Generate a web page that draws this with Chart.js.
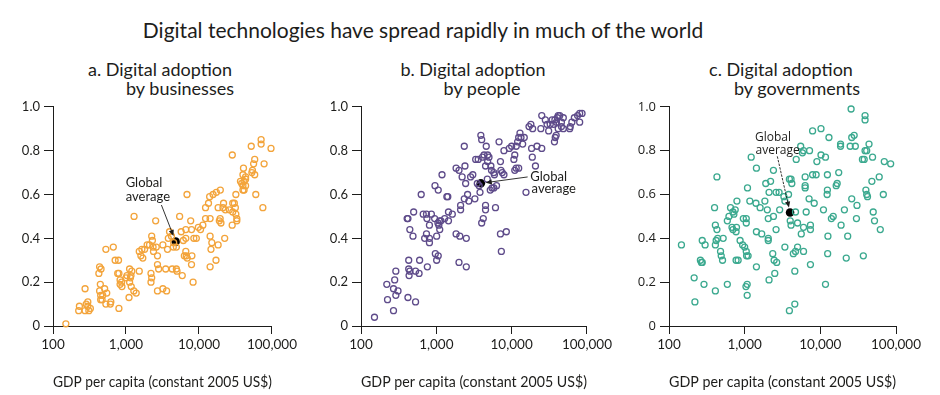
<!DOCTYPE html>
<html>
<head>
<meta charset="utf-8">
<script src="https://cdn.jsdelivr.net/npm/chart.js@4.4.1/dist/chart.umd.min.js"></script>
<style>
body{margin:0;background:#fff;width:940px;height:395px;position:relative;overflow:hidden;font-family:Lato,"Open Sans",sans-serif;color:#1d1d1b}
.t{position:absolute;white-space:nowrap;transform:translateX(-50%);line-height:1}
canvas{position:absolute}
</style>
</head>
<body>
<div class="t" style="left:423px;top:19px;font-size:21px">Digital technologies have spread rapidly in much of the world</div>
<div class="t" style="left:160px;top:60px;font-size:18px">a. Digital adoption</div>
<div class="t" style="left:180px;top:79px;font-size:18px">by businesses</div>
<div class="t" style="left:473px;top:60px;font-size:18px">b. Digital adoption</div>
<div class="t" style="left:482px;top:79px;font-size:18px">by people</div>
<div class="t" style="left:781px;top:60px;font-size:18px">c. Digital adoption</div>
<div class="t" style="left:797px;top:79px;font-size:18px">by governments</div>

<canvas id="cA" width="300" height="300" style="left:0;top:95px"></canvas>
<canvas id="cB" width="310" height="300" style="left:305px;top:95px"></canvas>
<canvas id="cC" width="325" height="300" style="left:615px;top:95px"></canvas>

<script>
// [GDP per capita, adoption index]
const businesses=[
[150,0.01],[225,0.07],[230,0.09],[275,0.07],[300,0.09],[310,0.07],[325,0.08],[285,0.10],[300,0.11],
[275,0.17],[445,0.19],[435,0.16],[450,0.14],[450,0.12],[470,0.12],[480,0.14],[510,0.17],[545,0.15],[530,0.10],[610,0.10],[620,0.11],
[425,0.24],[435,0.27],[455,0.26],[530,0.35],[670,0.36],[710,0.30],[790,0.30],[770,0.24],[800,0.24],[830,0.21],[830,0.19],[880,0.18],[800,0.08],
[870,0.20],[1000,0.22],[1030,0.23],[1120,0.26],[1150,0.22],[1120,0.20],[1180,0.18],[1100,0.13],[1280,0.16],[1380,0.15],[1170,0.23],[1200,0.25],[1520,0.25],
[1290,0.50],[1520,0.34],[1600,0.32],[1650,0.35],[1800,0.35],[1700,0.31],[1950,0.37],[2100,0.37],[2250,0.41],[2300,0.39],[2350,0.36],[2380,0.34],[2550,0.48],[2600,0.36],[2700,0.32],[2700,0.28],[2800,0.26],
[2200,0.24],[2250,0.22],[2200,0.20],[2700,0.16],[3200,0.17],[3600,0.16],
[3200,0.37],[3500,0.26],[3700,0.35],[3800,0.40],[3950,0.43],[4200,0.41],[4500,0.38],[4300,0.26],[4900,0.26],[5000,0.25],[4450,0.36],[4900,0.36],
[5430,0.50],[6850,0.60],[5700,0.43],[6100,0.39],[6600,0.44],[6600,0.40],[6300,0.32],[6600,0.34],[6700,0.32],[6900,0.31],[8000,0.32],[7900,0.28],
[8300,0.20],[5900,0.23],[7700,0.48],[7900,0.44],[8500,0.40],[9200,0.40],[9800,0.45],[10500,0.44],[11300,0.46],[12300,0.49],[14200,0.49],
[14200,0.41],[15000,0.38],[14600,0.35],[14200,0.27],[17100,0.30],[18300,0.37],[22500,0.40],
[12300,0.54],[13500,0.56],[14000,0.59],[15600,0.60],[17300,0.61],[19600,0.62],[18300,0.54],[21300,0.54],[21700,0.56],[23000,0.53],[26000,0.53],[29000,0.52],
[19000,0.48],[19500,0.49],[20000,0.47],[29000,0.56],[30500,0.56],[31500,0.54],[32000,0.51],[33000,0.49],[33000,0.48],[28500,0.46],
[28600,0.78],[32000,0.60],[37000,0.66],[38500,0.65],[40000,0.64],[40000,0.62],[41500,0.66],[43500,0.67],[41500,0.62],[43500,0.64],[40000,0.69],[40700,0.72],[43500,0.68],
[52000,0.82],[53000,0.70],[54000,0.71],[58000,0.76],[56000,0.74],[58000,0.69],[60000,0.60],[71000,0.85],[71000,0.83],[78000,0.74],[75000,0.54],[97000,0.81]
];

const people=[
[151,0.04],[220,0.19],[225,0.12],[270,0.07],[270,0.17],[280,0.21],[290,0.25],[290,0.14],[310,0.16],[420,0.13],[530,0.11],
[430,0.30],[430,0.26],[445,0.25],[435,0.23],[530,0.25],[590,0.24],[600,0.30],[760,0.27],
[410,0.49],[420,0.49],[500,0.52],[445,0.44],[490,0.41],[630,0.60],[670,0.51],[740,0.51],[750,0.49],[860,0.51],
[700,0.40],[740,0.42],[810,0.46],[810,0.38],[810,0.40],[950,0.49],[1050,0.47],[1080,0.46],[1100,0.48],[1150,0.48],
[1010,0.41],[1110,0.44],[1190,0.69],[960,0.64],[1060,0.62],[970,0.33],[1060,0.32],[1010,0.30],
[1290,0.49],[1380,0.59],[1420,0.59],[1450,0.48],[1450,0.52],[1630,0.51],[1830,0.42],[2050,0.41],[2100,0.53],[2100,0.55],[2000,0.29],[2500,0.27],
[2350,0.82],[1830,0.72],[2000,0.71],[2400,0.73],[2200,0.68],[2450,0.65],[2500,0.40],[2350,0.58],[2600,0.60],[2700,0.57],[2850,0.68],[3050,0.69],[3250,0.58],
[3330,0.76],[3600,0.76],[3900,0.87],[4000,0.85],[4600,0.82],[4100,0.77],[4300,0.78],[4800,0.78],[5000,0.77],
[4500,0.73],[4800,0.75],[5300,0.73],[5400,0.71],
[3500,0.65],[3700,0.64],[3800,0.61],[4000,0.47],[4200,0.49],[4500,0.53],[4500,0.55],[4750,0.67],[5200,0.62],[5500,0.63],[5800,0.63],[6300,0.64],
[5800,0.70],[5900,0.69],[6100,0.54],[6800,0.84],[7100,0.75],[7500,0.70],[7900,0.69],[7200,0.71],[7100,0.42],[8500,0.43],[7300,0.34],
[7900,0.80],[9300,0.81],[10000,0.82],[10700,0.76],[11000,0.78],[11500,0.82],[12000,0.84],[12400,0.86],[12900,0.88],[13300,0.86],[14000,0.83],[14700,0.86],
[11000,0.71],[11500,0.72],[12400,0.72],[15500,0.61],
[17000,0.91],[18000,0.92],[19000,0.90],[18400,0.81],[18800,0.77],[20700,0.73],[21700,0.82],[25100,0.81],[24400,0.90],[25100,0.96],
[28000,0.94],[29500,0.92],[31000,0.89],[32500,0.92],[34500,0.94],[36000,0.92],[37500,0.94],[39300,0.93],[40500,0.95],[41500,0.96],[43500,0.96],[45800,0.93],[48500,0.95],
[37000,0.84],[37900,0.86],[39000,0.87],[41500,0.90],[45800,0.91],[48500,0.90],
[59000,0.90],[63000,0.93],[68000,0.95],[75000,0.96],[80000,0.97],[86000,0.97],[60000,0.91],[80000,0.93]
];

const governments=[
[146,0.37],[215,0.22],[220,0.11],[260,0.30],[268,0.29],[275,0.29],[275,0.39],[300,0.37],[290,0.19],
[430,0.68],[400,0.54],[410,0.46],[430,0.44],[410,0.37],[420,0.39],[440,0.40],[480,0.34],[490,0.32],[510,0.30],[410,0.16],[520,0.40],[590,0.19],
[590,0.48],[620,0.50],[650,0.54],[700,0.52],[680,0.45],[700,0.44],[770,0.43],[780,0.45],[720,0.51],[750,0.53],[790,0.57],[870,0.39],
[960,0.49],[1050,0.49],[1050,0.47],[940,0.37],[1000,0.36],[1050,0.34],[770,0.30],[820,0.30],[1060,0.32],[1110,0.32],[1080,0.14],[1040,0.18],[1080,0.19],
[1090,0.63],[1170,0.57],[1410,0.56],[1600,0.54],[1220,0.77],[1430,0.72],[1430,0.43],[1680,0.42],[1430,0.27],
[1850,0.57],[1900,0.65],[2200,0.66],[1990,0.53],[2050,0.49],[2050,0.40],[2050,0.39],[2100,0.61],[2600,0.61],[2850,0.61],[2100,0.21],
[2400,0.71],[2400,0.50],[2350,0.33],[2450,0.30],[2650,0.29],[2500,0.24],[2600,0.44],[2900,0.53],[3300,0.59],[3400,0.57],[3400,0.36],
[3900,0.67],[4100,0.67],[4200,0.65],[3800,0.60],[4000,0.48],[4100,0.46],[4400,0.33],[4700,0.34],[4800,0.76],[5000,0.36],[4600,0.25],
[3900,0.07],[4600,0.10],[4700,0.52],[5000,0.47],[5500,0.82],[5800,0.79],[6000,0.80],[5600,0.42],[6000,0.45],[6000,0.34],
[6300,0.68],[6300,0.64],[6300,0.63],[6500,0.52],[7200,0.80],[7100,0.58],[7400,0.46],[7400,0.44],[7400,0.28],[7900,0.89],[7900,0.69],[8300,0.56],
[8800,0.69],[9000,0.75],[10200,0.90],[10200,0.78],[11000,0.53],[11700,0.77],[11700,0.19],[12300,0.60],[12400,0.62],[12400,0.69],[12500,0.33],[12600,0.41],[13000,0.86],
[14000,0.49],[14800,0.50],[16200,0.64],[16700,0.65],[17500,0.70],[18500,0.83],[18500,0.82],[18800,0.46],[20800,0.53],[22000,0.31],[23000,0.41],
[24800,0.82],[25500,0.99],[26000,0.86],[28000,0.87],[26000,0.58],[29000,0.82],[30000,0.49],[30500,0.55],
[36000,0.76],[38000,0.76],[39000,0.80],[41000,0.80],[37000,0.32],[39000,0.96],[39000,0.94],[40000,0.62],[41000,0.60],[42000,0.59],
[44000,0.83],[48000,0.66],[49000,0.77],[50000,0.52],[52000,0.48],[60000,0.68],[62000,0.44],[68000,0.60],[70000,0.75],[85000,0.74]
];

const globalAvg={a:[4790,0.385],b:[3900,0.651],c:[3980,0.518]};
const gdpTicks=[100,1000,10000,100000];
const scoreTicks=[0,0.2,0.4,0.6,0.8,1.0];

const noteMark={
id:'note',
afterDatasetsDraw(chart,args,o){
const ctx=chart.ctx,sx=chart.scales.x,sy=chart.scales.y;
ctx.save();
ctx.fillStyle='#1d1d1b';ctx.strokeStyle='#1d1d1b';
ctx.font=o.font;ctx.textBaseline='middle';ctx.textAlign='left';
o.text.forEach(t=>ctx.fillText(t[0],sx.getPixelForValue(t[1]),sy.getPixelForValue(t[2])));
const x0=sx.getPixelForValue(o.from[0]),y0=sy.getPixelForValue(o.from[1]);
const px=sx.getPixelForValue(o.to[0]),py=sy.getPixelForValue(o.to[1]);
const a=Math.atan2(py-y0,px-x0);
const x1=px-Math.cos(a)*o.gap,y1=py-Math.sin(a)*o.gap;
ctx.lineWidth=0.9;
if(o.dash)ctx.setLineDash(o.dash);
ctx.beginPath();ctx.moveTo(x0,y0);ctx.lineTo(x1-Math.cos(a)*4,y1-Math.sin(a)*4);ctx.stroke();
ctx.setLineDash([]);
ctx.beginPath();
ctx.moveTo(x1,y1);
ctx.lineTo(x1-Math.cos(a)*6+Math.sin(a)*2.6,y1-Math.sin(a)*6-Math.cos(a)*2.6);
ctx.lineTo(x1-Math.cos(a)*6-Math.sin(a)*2.6,y1-Math.sin(a)*6+Math.cos(a)*2.6);
ctx.closePath();ctx.fill();
ctx.restore();
}
};

function panel(id,data,avg,color,yw,padRight,note,tickFont){
const tf=tickFont||{family:'Lato',size:13};
return new Chart(document.getElementById(id),{
type:'scatter',
data:{datasets:[
{data:data.map(d=>({x:d[0],y:d[1]})),pointRadius:3,pointBorderWidth:1.3,borderColor:color,backgroundColor:'rgba(255,255,255,0)',pointHoverRadius:3},
{data:[{x:avg[0],y:avg[1]}],pointRadius:4.3,pointBorderWidth:0,backgroundColor:'#000',borderColor:'#000'}
]},
plugins:[noteMark],
options:{
responsive:false,animation:false,clip:false,
layout:{padding:{top:6,right:padRight,left:0,bottom:0}},
plugins:{legend:{display:false},tooltip:{enabled:false},note:note},
scales:{
x:{type:'logarithmic',min:100,max:100000,
afterBuildTicks:s=>{s.ticks=gdpTicks.map(v=>({value:v}));},
afterFit:s=>{s.height=69;},
grid:{drawOnChartArea:false,drawTicks:true,tickLength:8,color:'#1d1d1b',lineWidth:1},
border:{display:true,color:'#1d1d1b',width:1},
ticks:{color:'#1d1d1b',font:{family:'Lato',size:13.5},padding:3,maxRotation:0,callback:v=>v.toLocaleString('en-US')},
title:{display:true,text:'GDP per capita (constant 2005 US$)',color:'#1d1d1b',font:{family:'Lato',size:16},padding:{top:4,bottom:4}}
},
y:{min:0,max:1,
afterBuildTicks:s=>{s.ticks=scoreTicks.map(v=>({value:v}));},
afterFit:s=>{s.width=yw;},
grid:{drawOnChartArea:false,drawTicks:true,tickLength:9,color:'#1d1d1b',lineWidth:1},
border:{display:true,color:'#1d1d1b',width:1},
ticks:{color:'#1d1d1b',font:tf,padding:4,callback:v=>v===0?'0':v.toFixed(1)}
}
}
}
});
}

panel('cA',businesses,globalAvg.a,'#F3A43B',53,28,
{font:'13px Lato',text:[['Global',990,0.652],['average',990,0.589]],from:[3055,0.552],to:globalAvg.a,gap:6});
panel('cB',people,globalAvg.b,'#5E4B8A',56,26,
{font:'13px Lato',text:[['Global',17700,0.68],['average',18400,0.626]],from:[16300,0.68],to:globalAvg.b,gap:5});
panel('cC',governments,globalAvg.c,'#3BA98F',54,44,
{font:'12px "Open Sans"',text:[['Global',1370,0.858],['average',1390,0.799]],from:[2700,0.774],to:globalAvg.c,gap:5,dash:[2.5,1.2]},
{family:'Open Sans',size:13});
</script>
</body>
</html>
